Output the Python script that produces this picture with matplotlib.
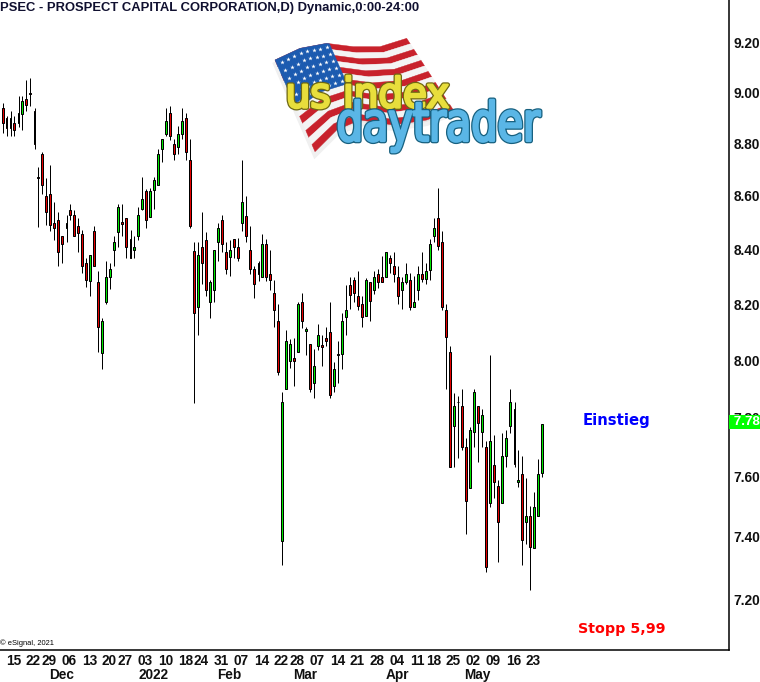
import matplotlib
matplotlib.use("Agg")
import matplotlib.pyplot as plt
import numpy as np
from matplotlib.patches import PathPatch, Polygon
from matplotlib.textpath import TextPath
from matplotlib.font_manager import FontProperties
from matplotlib.transforms import Affine2D, ScaledTranslation
from matplotlib.ticker import NullFormatter, NullLocator, FixedLocator, FixedFormatter

title = "PSEC - PROSPECT CAPITAL CORPORATION,D) Dynamic,0:00-24:00"

highs = [8.960,8.909,8.927,8.909,8.988,8.988,9.052,9.058,8.940,8.711,8.768,8.669,8.719,8.577,8.539,8.450,
 8.529,8.570,8.547,8.517,8.472,8.368,8.378,8.487,8.321,8.149,8.357,8.350,8.449,8.569,8.569,8.516,
 8.472,8.450,8.558,8.673,8.627,8.631,8.673,8.780,8.818,8.940,8.947,8.819,8.870,8.940,8.921,8.819,
 8.426,8.426,8.540,8.464,8.288,8.396,8.497,8.527,8.426,8.434,8.437,8.441,8.738,8.599,8.486,8.338,
 8.356,8.456,8.437,8.396,8.286,8.200,7.887,8.106,8.074,8.077,8.206,8.239,8.117,8.056,8.038,8.128,
 8.088,8.117,8.206,7.993,8.066,8.167,8.268,8.299,8.299,8.319,8.229,8.294,8.279,8.319,8.327,8.376,
 8.389,8.378,8.389,8.338,8.297,8.349,8.312,8.301,8.338,8.389,8.349,8.437,8.516,8.630,8.467,8.199,
 8.048,7.883,7.874,7.897,7.729,7.766,7.897,7.838,7.828,7.718,8.017,7.739,7.587,7.746,7.756,7.897,
 7.852,7.688,7.667,7.594,7.500,7.547,7.657,7.777]
opens = [8.939,8.900,8.860,8.883,8.880,8.916,8.974,8.998,8.927,8.671,8.760,8.599,8.606,8.497,8.509,8.449,
 8.481,8.546,8.527,8.486,8.456,8.349,8.282,8.467,8.279,8.026,8.208,8.300,8.399,8.466,8.501,8.516,
 8.437,8.399,8.451,8.550,8.618,8.519,8.622,8.640,8.781,8.840,8.920,8.798,8.789,8.840,8.900,8.738,
 8.393,8.191,8.407,8.434,8.208,8.249,8.429,8.509,8.389,8.371,8.437,8.407,8.500,8.524,8.396,8.327,
 8.349,8.300,8.419,8.308,8.239,8.138,7.388,7.900,7.998,8.006,8.030,8.206,8.102,8.056,7.921,8.051,
 8.052,8.077,8.099,7.910,8.020,8.020,8.152,8.268,8.286,8.228,8.199,8.158,8.279,8.250,8.308,8.297,
 8.300,8.367,8.338,8.297,8.249,8.281,8.286,8.191,8.249,8.308,8.290,8.323,8.451,8.516,8.426,8.177,
 8.027,7.770,7.855,7.838,7.698,7.560,7.749,7.838,7.749,7.698,7.510,7.637,7.567,7.510,7.670,7.770,
 7.828,7.580,7.607,7.450,7.467,7.365,7.470,7.611]
closes = [8.880,8.860,8.900,8.853,8.920,8.966,8.950,8.996,8.801,8.668,8.640,8.541,8.489,8.481,8.391,8.421,
 8.497,8.530,8.451,8.459,8.340,8.289,8.378,8.340,8.119,8.138,8.297,8.327,8.426,8.557,8.496,8.410,
 8.369,8.408,8.527,8.587,8.511,8.618,8.660,8.760,8.818,8.888,8.832,8.762,8.837,8.888,8.770,8.487,
 8.169,8.378,8.351,8.249,8.279,8.396,8.479,8.421,8.329,8.396,8.410,8.369,8.576,8.451,8.329,8.271,
 8.311,8.419,8.300,8.289,8.180,7.959,7.855,8.066,8.056,7.998,8.199,8.140,8.109,7.900,7.978,8.088,
 8.047,8.069,7.879,7.968,8.017,8.138,8.177,8.231,8.241,8.192,8.152,8.286,8.210,8.297,8.281,8.281,
 8.389,8.351,8.311,8.230,8.279,8.308,8.191,8.206,8.308,8.290,8.319,8.419,8.479,8.411,8.191,8.080,
 7.630,7.838,7.852,7.700,7.519,7.756,7.887,7.780,7.808,7.301,7.718,7.580,7.450,7.667,7.729,7.855,
 7.641,7.587,7.389,7.467,7.368,7.497,7.607,7.777]
lows = [8.844,8.832,8.832,8.832,8.867,8.852,8.930,8.946,8.781,8.485,8.609,8.489,8.470,8.436,8.340,8.351,
 8.429,8.511,8.451,8.391,8.314,8.260,8.230,8.340,8.030,7.970,8.201,8.256,8.340,8.410,8.451,8.369,
 8.369,8.369,8.436,8.547,8.481,8.519,8.549,8.640,8.731,8.832,8.813,8.739,8.762,8.820,8.739,8.481,
 7.851,8.089,8.271,8.230,8.151,8.208,8.358,8.391,8.311,8.303,8.369,8.358,8.470,8.429,8.311,8.223,
 8.282,8.300,8.282,8.249,8.119,7.948,7.310,7.900,7.973,7.910,8.030,8.112,8.019,7.889,7.868,8.037,
 7.980,8.051,7.868,7.889,7.921,7.970,8.090,8.183,8.208,8.180,8.119,8.158,8.140,8.238,8.259,8.281,
 8.300,8.312,8.281,8.201,8.183,8.272,8.180,8.191,8.216,8.281,8.271,8.289,8.428,8.399,8.180,7.900,
 7.630,7.630,7.663,7.690,7.411,7.560,7.700,7.650,7.700,7.287,7.499,7.529,7.319,7.510,7.630,7.748,
 7.630,7.566,7.309,7.378,7.230,7.365,7.470,7.598]

date_bars = [3,8,12,17,22,27,31,36,41,46,50,55,60,65,70,74,79,84,89,94,99,104,108,113,118,123,128,133]
date_labels = ["15","22","29","06","13","20","27","03","10","18","24","31","07","14","22","28","07","14","21","28","04","11","18","25","02","09","16","23"]
month_bars = [15,38,57,76,99,119]
month_labels = ["Dec","2022","Feb","Mar","Apr","May"]
price_ticks = [7.20,7.40,7.60,7.80,8.00,8.20,8.40,8.60,8.80,9.00,9.20]
last_price = 7.78

W, H = 760, 682
fig = plt.figure(figsize=(W/100, H/100), dpi=100)
plt.rcParams['font.family'] = ['Liberation Sans', 'DejaVu Sans']
ax = fig.add_axes([0, (H-650)/H, 729/W, 650/H])
ax.set_yscale('log')
ax.set_ylim(7.040, 9.376)
ax.set_xlim(-0.625, 181.625)

o, h, l, c = map(np.array, (opens, highs, lows, closes))
x = np.arange(len(o))
px = 0.72
ax.vlines(x, l, h, color='black', lw=px, zorder=2)
up = c >= o
for mask, col in ((up, '#00e600'), (~up, '#e60000')):
    ax.bar(x[mask], np.abs(c-o)[mask], bottom=np.minimum(o, c)[mask], width=0.5,
           color=col, edgecolor='black', linewidth=px, zorder=3)

for s in ('top', 'left'):
    ax.spines[s].set_visible(False)
for s in ('right', 'bottom'):
    ax.spines[s].set_linewidth(1.1)

ax.yaxis.tick_right()
ax.yaxis.set_major_locator(FixedLocator(price_ticks))
ax.yaxis.set_major_formatter(FixedFormatter([f"{v:.2f}" for v in price_ticks]))
ax.yaxis.set_minor_locator(NullLocator())
ax.yaxis.set_minor_formatter(NullFormatter())
ax.tick_params(axis='y', length=0, pad=3.2, labelsize=9.9)
for t in ax.get_yticklabels():
    t.set_fontweight('bold')
    t.set_color('#101010')

ax.xaxis.remove_overlapping_locs = False
ax.set_xticks(date_bars, date_labels)
ax.set_xticks(month_bars, month_labels, minor=True)
ax.tick_params(axis='x', which='major', length=0, pad=2.8, labelsize=9.8)
ax.tick_params(axis='x', which='minor', length=0, pad=13.0, labelsize=9.8)
shift = ScaledTranslation(-1/100, 0, fig.dpi_scale_trans)
for t in ax.get_xticklabels() + ax.get_xticklabels(minor=True):
    t.set_fontweight('bold')
    t.set_color('#101010')
    t.set_transform(t.get_transform() + shift)

# last price tag
ax.annotate(f" {last_price:.2f}", xy=(1.0, last_price), xycoords=('axes fraction', 'data'),
            xytext=(0.7, 0.9), textcoords='offset points', ha='left', va='center',
            color='white', fontsize=9.6, fontweight='bold', zorder=20, annotation_clip=False,
            bbox=dict(boxstyle='square,pad=0.1', fc='#00ff00', ec='none'))

ax.text(145, 7.79, "Einstieg", color='#0000ff', fontsize=10.7, fontweight='bold',
        family='DejaVu Sans', va='center', ha='left', clip_on=False)
ax.text(144, 7.106, "Stopp 5,99", color='#ff0000', fontsize=10.3, fontweight='bold',
        family='DejaVu Sans', va='center', ha='left', clip_on=False)

fig.text(0/W, 1-8/H, title, fontsize=9.4, fontweight='bold', color='#101030', va='center', ha='left')
fig.text(0/W, 1-643/H, "\u00a9 eSignal, 2021", fontsize=5.4, color='black', va='center', ha='left')

# ---- logo, drawn in pixel space ----
lg = fig.add_axes([0, 0, 1, 1], facecolor='none')
lg.set_xlim(0, W); lg.set_ylim(H, 0); lg.axis('off')

def zp(pts):
    a = np.array(pts, float)
    return a/3 + np.array([260, 30])

top = zp([(45,90),(120,55),(200,40),(280,50),(360,50),(440,25)])
bot = zp([(165,365),(230,300),(300,270),(400,285),(500,270),(580,240)])
us = np.linspace(0, 1, 41)
knots = np.linspace(0, 1, len(top))
def edge(arr, u):
    return np.column_stack([np.interp(u, knots, arr[:,0]), np.interp(u, knots, arr[:,1])])
def flag_pt(u, v):
    return edge(top, u)*(1-v) + edge(bot, u)*v
def flag_poly(u0, u1, v0, v1):
    uu = us*(u1-u0)+u0
    return np.vstack([flag_pt(uu, v0), flag_pt(uu[::-1], v1)])

shadow = flag_poly(0, 1, 0, 1) + np.array([0, 4])
lg.add_patch(Polygon(shadow, fc='#e4e4e4', ec='#f0f0f0', lw=3, zorder=1))
n_stripes = 13
for k in range(n_stripes):
    col = '#c8222c' if k % 2 == 0 else '#f4f4f4'
    lg.add_patch(Polygon(flag_poly(0, 1, k/n_stripes, (k+1)/n_stripes), fc=col, ec=col, lw=0.3, zorder=2))
lg.add_patch(Polygon(flag_poly(0, 0.42, 0, 7/13), fc='#1c5bb0', ec='#1c5bb0', lw=0.3, zorder=3))
su, sv = np.meshgrid(np.linspace(0.04, 0.39, 8), np.linspace(0.05, 0.49, 6))
pts = np.array([flag_pt(np.array([a]), b)[0] for a, b in zip(su.ravel(), sv.ravel())])
lg.scatter(pts[:,0], pts[:,1], marker='*', s=11, c='white', linewidths=0, zorder=4)

def fit_text(s, x0, y0, x1, y1, fill, edgecol, z):
    tp = TextPath((0, 0), s, size=10, prop=FontProperties(family='DejaVu Sans'))
    b = tp.get_extents()
    tr = (Affine2D().translate(-b.x0, -b.y0).scale((x1-x0)/b.width, -(y1-y0)/b.height)
          .translate(x0, y1))
    p = tp.transformed(tr)
    lg.add_patch(PathPatch(p, fc=edgecol, ec=edgecol, lw=3.6, joinstyle='round', zorder=z))
    lg.add_patch(PathPatch(p, fc=fill, ec=fill, lw=1.8, joinstyle='round', zorder=z+0.1))

fit_text("us index", 289, 76, 448, 108, '#e8de3c', '#6f6812', 6)
fit_text("daytrader", 339, 100, 540, 152, '#5ab6e6', '#17607f', 7)

fig.savefig("out.png", dpi=100)
